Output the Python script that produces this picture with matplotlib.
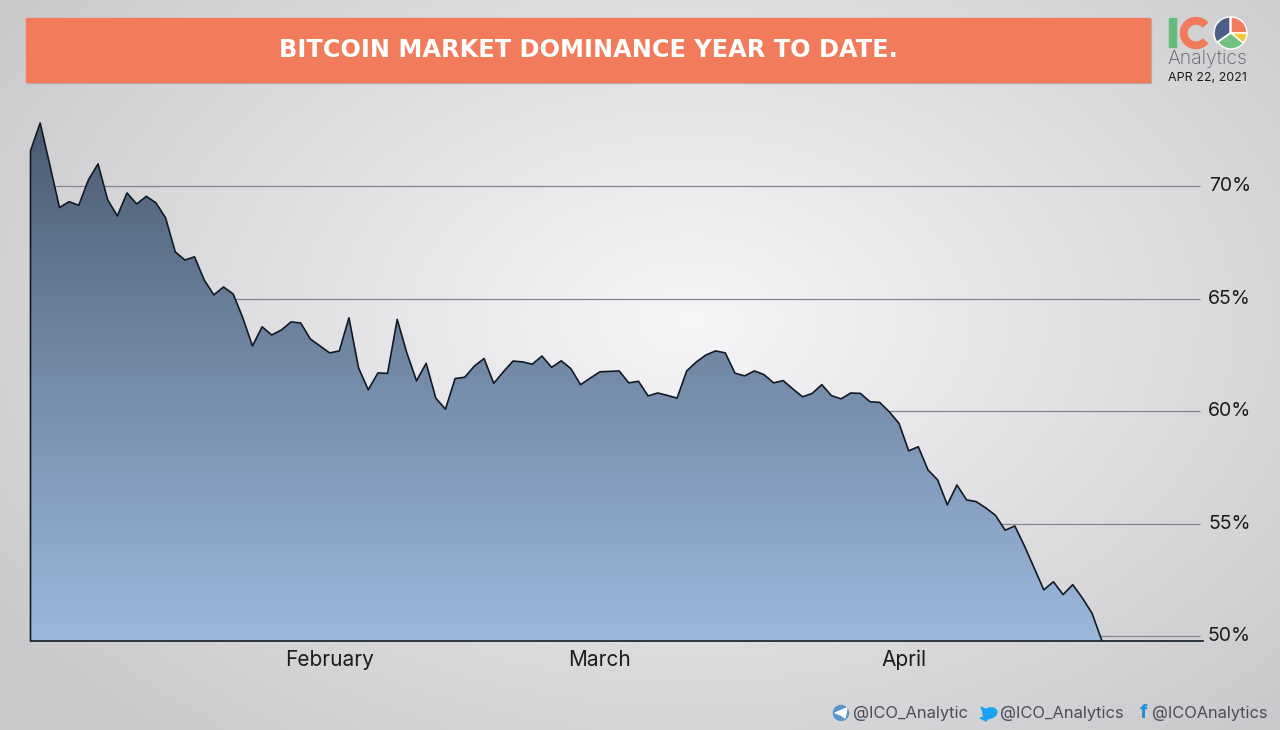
import numpy as np
import matplotlib
matplotlib.use("Agg")
from matplotlib import pyplot as plt
from matplotlib.patches import Rectangle, Wedge, Circle, Polygon, Ellipse

plt.rcParams['font.family'] = ['Inter', 'DejaVu Sans']

# daily dominance, Jan 1 to Apr 22
dominance = [
    71.58, 72.82, 70.96, 69.06, 69.32, 69.16, 70.29, 71.00, 69.40, 68.69,
    69.71, 69.22, 69.56, 69.27, 68.60, 67.09, 66.73, 66.87, 65.84, 65.18,
    65.53, 65.22, 64.16, 62.91, 63.76, 63.40, 63.62, 63.98, 63.93, 63.22,
    62.91, 62.60, 62.69, 64.16, 61.93, 60.96, 61.71, 61.69, 64.09, 62.60,
    61.36, 62.14, 60.59, 60.10, 61.46, 61.52, 62.02, 62.35, 61.25, 61.76,
    62.24, 62.20, 62.10, 62.46, 61.96, 62.25, 61.90, 61.19, 61.48, 61.76,
    61.78, 61.80, 61.27, 61.34, 60.69, 60.82, 60.71, 60.59, 61.80, 62.20,
    62.51, 62.69, 62.60, 61.70, 61.58, 61.80, 61.64, 61.27, 61.37, 61.00,
    60.65, 60.80, 61.19, 60.70, 60.56, 60.82, 60.80, 60.43, 60.40, 59.98,
    59.47, 58.25, 58.43, 57.40, 56.96, 55.85, 56.73, 56.07, 55.99, 55.71,
    55.38, 54.72, 54.91, 54.02, 53.05, 52.07, 52.43, 51.86, 52.30, 51.71,
    51.03, 49.84,
]
month_days = [31, 59, 90.5]
month_labels = ['February', 'March', 'April']
y_ticks = [50, 55, 60, 65, 70]
y_labels = ['50%', '55%', '60%', '65%', '70%']
title = 'BITCOIN MARKET DOMINANCE YEAR TO DATE.'

W, H = 1280, 730
fig = plt.figure(figsize=(W / 100, H / 100), dpi=100)

# background, pixel coordinates
bg = fig.add_axes([0, 0, 1, 1])
bg.set_xlim(0, W)
bg.set_ylim(H, 0)
bg.axis('off')
yy, xx = np.mgrid[0:H, 0:W]
r = np.sqrt(((xx - 690) / 720) ** 2 + ((yy - 320) / 480) ** 2)
shade = np.clip(0.965 - 0.15 * np.clip(r, 0, 1.15), 0, 1)
bg.imshow(np.dstack([shade, shade, shade + 0.008]).clip(0, 1), extent=[0, W, H, 0], aspect='auto', zorder=0)

# banner
bg.add_patch(Rectangle((27, 19), 1124, 64, color='#a9a9ab', alpha=0.6, zorder=1))
bg.add_patch(Rectangle((26, 18), 1124, 64, color='#f27b5c', zorder=2))
bg.text(588, 50, title, color='white', fontsize=17.3, fontweight='bold', family='DejaVu Sans',
        ha='center', va='center', zorder=3)

# logo
bg.add_patch(Rectangle((1168.5, 18), 7.5, 29, color='#66bb7d', zorder=3))
bg.add_patch(Wedge((1196, 33), 15.5, 42, 318, width=6.5, color='#f27b5c', zorder=3))
# y axis is flipped here, so wedge angles run clockwise on screen
pie = (1231, 33)
bg.add_patch(Wedge((pie[0] - 1, pie[1]), 16, 145, 270, color='#4b5f86', ec='white', lw=1, zorder=3))
bg.add_patch(Wedge(pie, 16, 270, 360, color='#f27b5c', ec='white', lw=1, zorder=3))
bg.add_patch(Wedge(pie, 16, 0, 40, color='#f5c93d', ec='white', lw=1, zorder=3))
bg.add_patch(Wedge(pie, 16, 40, 145, color='#74c283', ec='white', lw=1, zorder=3))
bg.text(1207.5, 59, 'Analytics', color='#5c6064', fontsize=14, ha='center', va='center', fontweight='light')
bg.text(1207.5, 78, 'APR 22, 2021', color='#1c1c1e', fontsize=9, ha='center', va='center')

# footer
foot_y = 713
bg.add_patch(Circle((841, foot_y), 7.5, color='#5b95c9', zorder=3))
bg.add_patch(Polygon([[835, foot_y], [847, foot_y - 5], [845, foot_y + 5], [841, foot_y + 2]], color='white', zorder=4))
bg.text(853, foot_y, '@ICO_Analytic', color='#4a4d55', fontsize=11.9, ha='left', va='center')
bg.add_patch(Ellipse((990, foot_y), 14, 10, angle=-15, color='#1da1f2', zorder=3))
bg.add_patch(Polygon([[981, foot_y - 6], [991, foot_y - 1], [985, foot_y + 4]], color='#1da1f2', zorder=3))
bg.add_patch(Polygon([[980, foot_y + 5], [991, foot_y + 3], [986, foot_y + 8]], color='#1da1f2', zorder=3))
bg.text(1000, foot_y, '@ICO_Analytics', color='#4a4d55', fontsize=11.9, ha='left', va='center')
bg.text(1144, foot_y, 'f', color='#1d8fe0', fontsize=14, fontweight='bold', ha='center', va='center')
bg.text(1152, foot_y, '@ICOAnalytics', color='#4a4d55', fontsize=11.8, ha='left', va='center')

# chart, axes box from pixel 30.5..1203 / 100..640.5
ax = fig.add_axes([30.5 / W, 1 - 640.5 / H, (1203 - 30.5) / W, (640.5 - 100) / H])
ax.patch.set_alpha(0)
days = np.arange(len(dominance))
y0, y1 = 49.82, 73.84
ax.set_xlim(0, 121.5)
ax.set_ylim(y0, y1)

ax.hlines(y_ticks, 0, 121.2, color='#85878b', lw=0.9, zorder=1)

# gradient area
grad = (np.linspace(0, 1, 256) ** 0.9).reshape(-1, 1, 1)
top_c = np.array([0x48, 0x58, 0x6d]) / 255
bot_c = np.array([0x9b, 0xb8, 0xdd]) / 255
img = ax.imshow(top_c + (bot_c - top_c) * grad, extent=[0, 121.5, y0, 72.9], aspect='auto', zorder=2)
area = ax.fill_between(days, dominance, y0, color='none')
img.set_clip_path(area.get_paths()[0], transform=ax.transData)
ax.set_xlim(0, 121.5)
ax.set_ylim(y0, y1)

ax.plot(np.r_[0, days], np.r_[y0, dominance], color='#111a24', lw=1.2, zorder=3, clip_on=False)

ax.set_xticks(month_days)
ax.set_xticklabels(month_labels, fontsize=15, color='#1c1c1e')
ax.set_yticks(y_ticks)
ax.set_yticklabels(y_labels, fontsize=14, color='#1c1c1e')
ax.tick_params(axis='x', length=0, pad=6.5)
ax.tick_params(axis='y', length=0, left=False, labelleft=False, labelright=True, pad=34.5)
for lab in ax.get_yticklabels():
    lab.set_ha('right')
    lab.set_va('center')

for s in ['top', 'left', 'right']:
    ax.spines[s].set_visible(False)
ax.spines['bottom'].set_color('#111a24')
ax.spines['bottom'].set_linewidth(1.2)

fig.savefig('out.png', dpi=100)
